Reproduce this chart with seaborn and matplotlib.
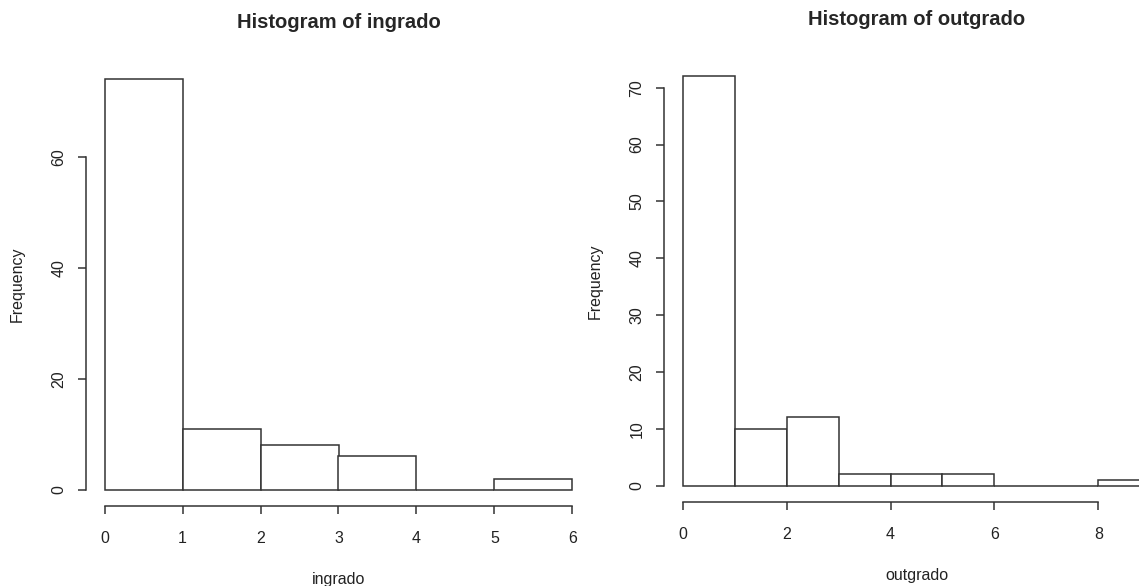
import matplotlib
matplotlib.use("Agg")
import matplotlib.pyplot as plt
import seaborn as sns
import numpy as np

sns.set_style("white")
plt.rcParams['font.family'] = ['Liberation Sans', 'DejaVu Sans']

# Data (bin counts)
in_edges = [0, 1, 2, 3, 4, 5, 6]
in_counts = [74, 11, 8, 6, 0, 2]
out_edges = [0, 1, 2, 3, 4, 5, 6, 7, 8, 9]
out_counts = [72, 10, 12, 2, 2, 2, 0, 0, 1]
in_xticks = [0, 1, 2, 3, 4, 5, 6]
in_yticks = [0, 20, 40, 60]
out_xticks = [0, 2, 4, 6, 8]
out_yticks = [0, 10, 20, 30, 40, 50, 60, 70]

W, H = 1139, 586
fig = plt.figure(figsize=(W / 100, H / 100), dpi=100)

EC = '#333333'

def panel(rect, edges, counts, xticks, yticks, title, xlabel):
    ax = fig.add_axes(rect)
    lefts = edges[:-1]
    sns.histplot(x=lefts, weights=counts, bins=edges, ax=ax,
                 color='white', edgecolor=EC, linewidth=1.1, alpha=1)
    xr = edges[-1] - edges[0]
    yr = max(counts)
    ax.set_xlim(edges[0] - 0.04 * xr, edges[-1] + 0.04 * xr)
    ax.set_ylim(-0.04 * yr, yr * 1.04)
    for s in ['top', 'right']:
        ax.spines[s].set_visible(False)
    ax.spines['left'].set_bounds(yticks[0], yticks[-1])
    ax.spines['bottom'].set_bounds(xticks[0], xticks[-1])
    for s in ['left', 'bottom']:
        ax.spines[s].set_color(EC)
        ax.spines[s].set_linewidth(1.1)
    ax.set_xticks(xticks)
    ax.set_yticks(yticks)
    ax.set_yticklabels([str(v) for v in yticks], rotation=90, va='center')
    ax.tick_params(axis='both', direction='out', length=6, width=1.1,
                   color=EC, labelsize=11.5, labelcolor='#222222',
                   bottom=True, left=True)
    ax.tick_params(axis='x', pad=12)
    ax.tick_params(axis='y', pad=8)
    ax.set_xlabel(xlabel, fontsize=11.5, labelpad=19, color='#222222')
    ax.set_ylabel('Frequency', fontsize=11.5, labelpad=19, color='#222222')
    ax.set_title(title, fontsize=14.5, fontweight='bold', pad=25)
    return ax

panel([86 / W, (H - 506) / H, 505 / W, 443 / H], in_edges, in_counts,
      in_xticks, in_yticks, 'Histogram of ingrado', 'ingrado')
panel([664 / W, (H - 502) / H, 505 / W, 442 / H], out_edges, out_counts,
      out_xticks, out_yticks, 'Histogram of outgrado', 'outgrado')

fig.savefig('out.png', dpi=100)
